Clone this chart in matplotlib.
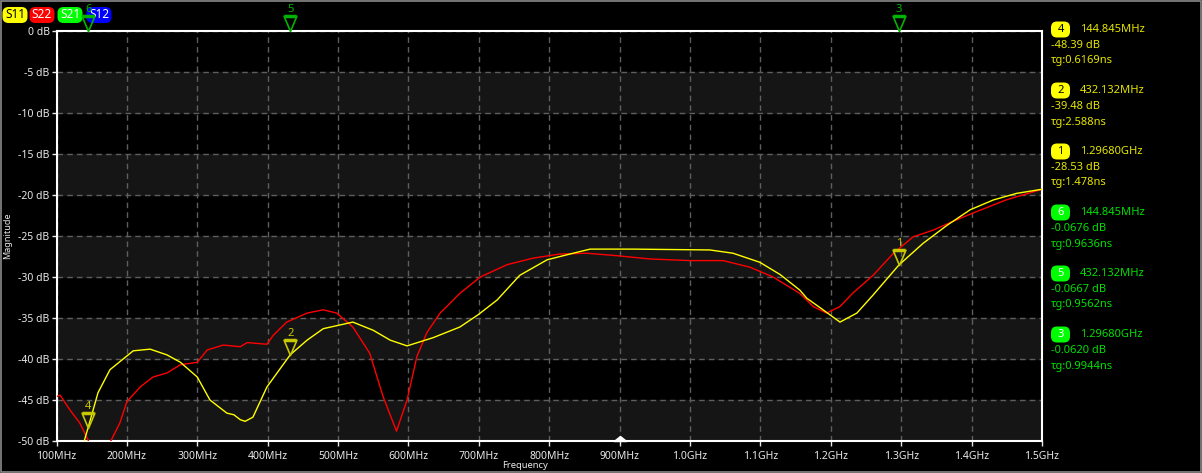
import numpy as np
import matplotlib.pyplot as plt
from matplotlib.path import Path
from matplotlib.patches import Rectangle, FancyBboxPatch
from matplotlib.transforms import IdentityTransform

# S11 (yellow) trace, frequency in MHz / magnitude in dB
s11_f = [136, 144.845, 159, 176, 199, 209, 233, 257, 276, 300, 318, 342, 352, 361, 368, 379,
         399, 432.132, 456, 479, 521, 550, 574, 598, 635, 673, 699, 726, 758, 797, 834, 858,
         919, 1028, 1061, 1099, 1128, 1156, 1166, 1189, 1213, 1237, 1260, 1296.8, 1331, 1365,
         1398, 1431, 1464, 1500]
s11_db = [-51.0, -48.39, -44.1, -41.3, -39.7, -39.0, -38.8, -39.5, -40.4, -42.2, -45.0, -46.6,
          -46.8, -47.4, -47.6, -47.1, -43.4, -39.48, -37.7, -36.3, -35.5, -36.5, -37.7, -38.4,
          -37.4, -36.1, -34.6, -32.8, -29.8, -27.9, -27.1, -26.6, -26.6, -26.7, -27.1, -28.2,
          -29.7, -31.6, -32.6, -34.0, -35.5, -34.4, -32.2, -28.53, -25.9, -23.7, -21.8, -20.6,
          -19.8, -19.3]

# S22 (red) trace
s22_f = [100, 105, 119, 133, 145, 150, 165, 176, 190, 200, 219, 237, 257, 276, 300, 314, 337,
         361, 371, 399, 408, 427, 456, 479, 498, 521, 545, 564, 583, 598, 612, 626, 645, 673,
         702, 740, 777, 815, 853, 896, 943, 1000, 1047, 1085, 1118, 1156, 1175, 1194, 1213,
         1232, 1260, 1289, 1317, 1345, 1374, 1402, 1449, 1500]
s22_db = [-44.6, -44.4, -46.2, -47.8, -49.9, -51.5, -53.0, -50.2, -47.8, -45.2, -43.4, -42.2,
          -41.7, -40.7, -40.4, -38.9, -38.3, -38.5, -38.0, -38.2, -37.1, -35.5, -34.4, -34.0,
          -34.4, -36.1, -39.3, -44.6, -48.8, -45.0, -39.7, -36.8, -34.4, -32.0, -30.0, -28.5,
          -27.7, -27.2, -27.1, -27.4, -27.8, -28.0, -28.0, -28.8, -30.0, -32.0, -33.6, -34.4,
          -33.6, -31.9, -29.8, -27.1, -25.1, -24.3, -23.2, -22.2, -20.6, -19.3]

# markers: number, trace, freq (MHz), magnitude (dB), group delay text
mk_num = ['4', '2', '1', '6', '5', '3']
mk_trace = ['S11', 'S11', 'S11', 'S21', 'S21', 'S21']
mk_freq = [144.845, 432.132, 1296.80, 144.845, 432.132, 1296.80]
mk_freq_txt = ['144.845MHz', '432.132MHz', '1.29680GHz', '144.845MHz', '432.132MHz', '1.29680GHz']
mk_db = [-48.39, -39.48, -28.53, -0.0676, -0.0667, -0.0620]
mk_db_txt = ['-48.39 dB', '-39.48 dB', '-28.53 dB', '-0.0676 dB', '-0.0667 dB', '-0.0620 dB']
mk_tg = ['0.6169ns', '2.588ns', '1.478ns', '0.9636ns', '0.9562ns', '0.9944ns']

x_ticks = [100, 200, 300, 400, 500, 600, 700, 800, 900, 1000, 1100, 1200, 1300, 1400, 1500]
x_labels = ['100MHz', '200MHz', '300MHz', '400MHz', '500MHz', '600MHz', '700MHz', '800MHz',
            '900MHz', '1.0GHz', '1.1GHz', '1.2GHz', '1.3GHz', '1.4GHz', '1.5GHz']
y_ticks = list(range(0, -55, -5))

plt.rcParams['font.family'] = ['Noto Sans', 'DejaVu Sans']

W, H = 1202, 473
fig = plt.figure(figsize=(W / 100, H / 100), dpi=100, facecolor='black')
ax = fig.add_axes([56.5 / W, (H - 441) / H, (1042 - 56.5) / W, (441 - 31) / H])
ax.set_facecolor('black')

# alternating bands
for top in range(-5, -50, -10):
    ax.axhspan(top - 5, top, color='#151515', zorder=0)

ax.set_xlim(100, 1500)
ax.set_ylim(-50, 0)
ax.set_xticks(x_ticks)
ax.set_xticklabels(x_labels)
ax.set_yticks(y_ticks)
ax.set_yticklabels([f'{v} dB' for v in y_ticks])
ax.tick_params(colors='#e8e8e8', labelsize=7.5, length=3.5, width=1, direction='out')
ax.tick_params(axis='y', pad=1.5)
ax.tick_params(axis='x', pad=3.5)
ax.grid(True, color='#5e5e5e', linestyle=(0, (4, 3)), linewidth=1, zorder=1)
for s in ax.spines.values():
    s.set_color('white')
    s.set_linewidth(1.5)

ax.plot(s22_f, s22_db, color='#ff0000', lw=1, zorder=3)
ax.plot(s11_f, s11_db, color='#ffff00', lw=1, zorder=4)

# marker triangles (tip at the marker value)
tri = Path([(0, 0), (-0.42, 1), (0.42, 1), (0, 0)],
           [Path.MOVETO, Path.LINETO, Path.LINETO, Path.CLOSEPOLY])
bar = Path([(-0.42, 1), (0.42, 1)], [Path.MOVETO, Path.LINETO])
for n, tr, f, d in zip(mk_num, mk_trace, mk_freq, mk_db):
    col = '#c8c800' if tr == 'S11' else '#00b400'
    yv = d if tr == 'S11' else 0
    ax.plot([f], [yv], marker=tri, ms=22, mfc='none', mec=col, mew=1.2, clip_on=False, zorder=6)
    ax.plot([f], [yv], marker=bar, ms=22, mec=col, mew=2.5, clip_on=False, zorder=6)
    ax.annotate(n, (f, yv), xytext=(0, 11.5), textcoords='offset points', ha='center', va='bottom',
                color=col, fontsize=8, annotation_clip=False, zorder=7)

# scroll cursor at 900 MHz
cur = Path([(-1, 0), (1, 0), (0, 0.8), (-1, 0)], [Path.MOVETO, Path.LINETO, Path.LINETO, Path.CLOSEPOLY])
ax.plot([900], [-50], marker=cur, ms=9, color='white', clip_on=False, zorder=8)

fig.text(8 / W, 1 - 236 / H, 'Magnitude', rotation=90, color='#e8e8e8', fontsize=6.5,
         ha='center', va='center')
fig.text(525 / W, 1 - 465 / H, 'Frequency', color='#e8e8e8', fontsize=6.8, ha='center', va='center')


def badge(xc, yc, w, h, text, bg, fg, size):
    # box in pixel units (y measured from the top of the image)
    fig.patches.append(FancyBboxPatch((xc - w / 2, H - yc - h / 2), w, h,
                                      boxstyle='round,pad=0,rounding_size=6',
                                      transform=IdentityTransform(), fc=bg, ec='none', zorder=-2))
    fig.text(xc / W, 1 - yc / H, text, color=fg, fontsize=size, ha='center', va='center', zorder=-1)


# trace badges
badges = [('S11', '#ffff00', 'black', 15), ('S22', '#ff0000', 'white', 42),
          ('S21', '#00ff00', 'white', 70), ('S12', '#0000ff', 'white', 99)]
for name, bg, fg, xc in badges:
    badge(xc, 15, 25, 16, name, bg, fg, 8.5)

# marker readouts
for i, (n, tr) in enumerate(zip(mk_num, mk_trace)):
    y0 = 29.5 + 61 * i
    col = '#e6e600' if tr == 'S11' else '#00e000'
    bg = '#ffff00' if tr == 'S11' else '#00ff00'
    fg = 'black' if tr == 'S11' else 'white'
    badge(1060.5, y0, 19, 16, n, bg, fg, 8)
    fig.text(1080 / W, 1 - y0 / H, mk_freq_txt[i], color=col, fontsize=8, ha='left', va='center')
    fig.text(1051 / W, 1 - (y0 + 16) / H, mk_db_txt[i], color=col, fontsize=8, ha='left', va='center')
    fig.text(1051 / W, 1 - (y0 + 31.5) / H, '\u03c4g:' + mk_tg[i], color=col, fontsize=8,
             ha='left', va='center')

fig.patches.append(Rectangle((0.5 / W, 1.5 / H), 1 - 1.5 / W, 1 - 2.5 / H, transform=fig.transFigure,
                             fill=False, ec='#8a8a8a', lw=1.2))

fig.savefig('out.png', dpi=100, facecolor='black')
